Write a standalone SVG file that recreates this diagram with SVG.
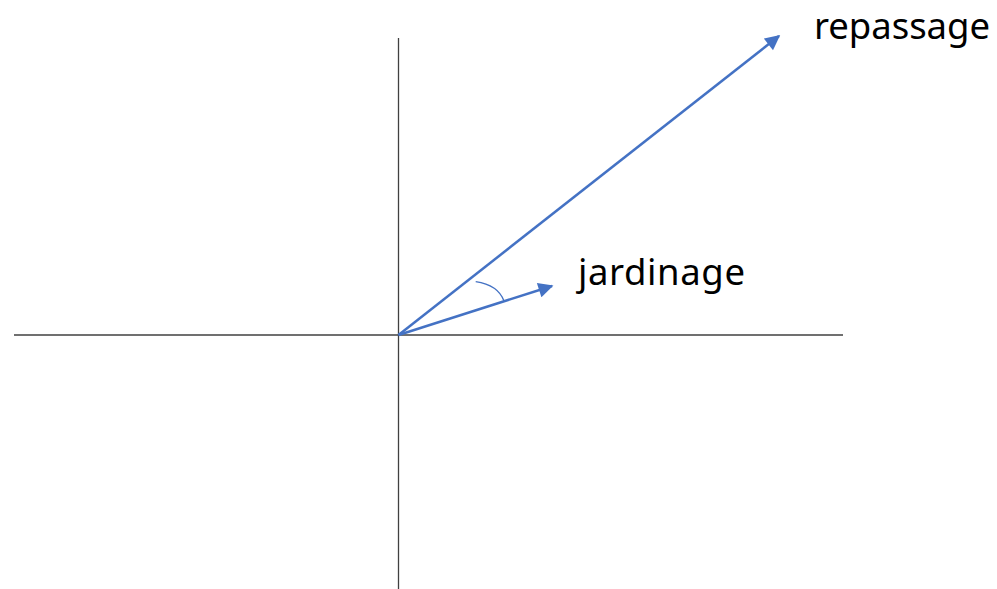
<svg xmlns="http://www.w3.org/2000/svg" width="997" height="589" viewBox="0 0 997 589">
<style>
.axis{stroke:#404040;stroke-width:1.3;fill:none}
.vec{stroke:#4472C4;stroke-width:2.5;fill:none}
.lbl{font-family:"Noto Sans","Open Sans",sans-serif;font-size:36.5px;fill:#000}
</style>
<defs>
<marker id="ah" viewBox="0 0 10 10" refX="9" refY="5" markerWidth="6.5" markerHeight="6" markerUnits="strokeWidth" orient="auto">
<path d="M0,0 L10,5 L0,10 z" fill="#4472C4"/>
</marker>
</defs>
<rect width="997" height="589" fill="#fff"/>
<g id="axes">
<line class="axis" x1="14" y1="335" x2="843" y2="335"/>
<line class="axis" x1="398.5" y1="38" x2="398.5" y2="589"/>
</g>
<g id="connectors">
<line class="vec" x1="398.5" y1="335" x2="779" y2="36" marker-end="url(#ah)"/>
<line class="vec" x1="398.5" y1="335" x2="552" y2="286" marker-end="url(#ah)"/>
<path d="M475.7,281.7 Q498,285 504,301" stroke="#4472C4" stroke-width="1.3" fill="none"/>
</g>
<g id="repassage"><text class="lbl" x="814" y="39" textLength="176">repassage</text></g>
<g id="jardinage"><text class="lbl" x="578" y="285" textLength="167">jardinage</text></g>
</svg>
